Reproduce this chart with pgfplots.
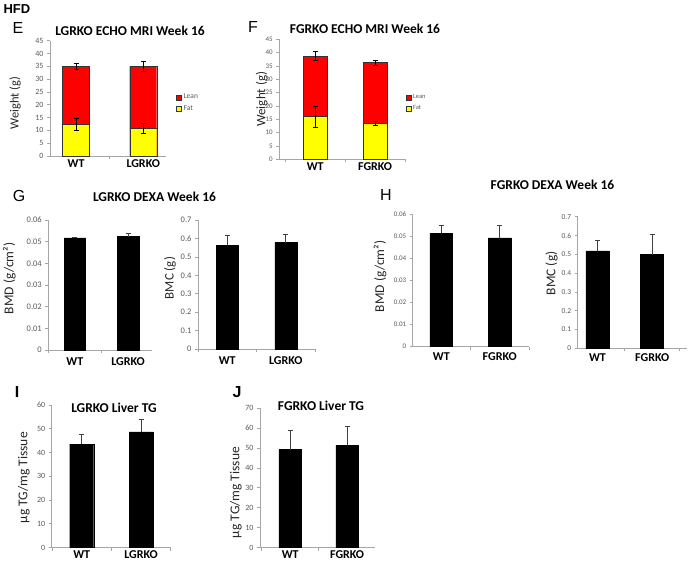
\documentclass[border=0pt]{standalone}
\usepackage{pgfplots}
\pgfplotsset{compat=1.18}
\usepackage{fontspec}
\setmainfont{Carlito}
\newfontfamily\arial{Liberation Sans}
\definecolor{tickgray}{HTML}{595959}
\definecolor{axgray}{HTML}{A6A6A6}
\definecolor{barred}{HTML}{FF0000}
\definecolor{baryel}{HTML}{FFFF00}
\definecolor{errgray}{HTML}{404040}

\pgfplotsset{
  panel/.style={
    scale only axis, anchor=south west, clip=false,
    axis x line*=bottom, axis y line*=left,
    axis line style={draw=axgray, line width=0.7pt},
    tick align=outside, major tick length=3pt,
    tick style={draw=axgray, line width=0.7pt},
    ymin=0, enlargelimits=false,
    scaled y ticks=false,
    /pgf/number format/assume math mode=true,
    yticklabel style={/pgf/number format/fixed, /pgf/number format/precision=2,
      font=\fontsize{8}{9}\selectfont, text=tickgray},
    xtick={-0.5,0.5,1.5}, xticklabels={{},{},{}},
    extra x ticks={0,1},
    extra x tick style={major tick length=0pt,
      xticklabel style={font=\bfseries\fontsize{12}{13}\selectfont, text=black}},
    ylabel style={font=\fontsize{12.5}{13}\selectfont, text=black!85, anchor=center},
    legend image code/.code={\draw[#1,/tikz/.cd,yshift=-2.5pt] (0pt,0pt) rectangle (5pt,5pt);},
    legend cell align=left,
  },
  errboth/.style={error bars/.cd, y dir=both, y explicit,
    error bar style={black, line width=0.5pt},
    error mark options={rotate=90, mark size=2.5pt, black, line width=0.5pt}},
  errplus/.style={error bars/.cd, y dir=plus, y explicit,
    error bar style={errgray, line width=0.6pt},
    error mark options={rotate=90, mark size=2.5pt, errgray, line width=0.6pt}},
  blackbar/.style={ybar, bar shift=0pt, fill=black, draw=black, bar width=#1},
}

\begin{document}
\begin{tikzpicture}
\path[use as bounding box] (0pt,0pt) rectangle (688pt,565pt);

% ---------- labels / titles ----------
\node[anchor=west, font=\arial\bfseries\fontsize{13}{14}\selectfont] at (0pt,556pt) {HFD};
\node[font=\arial\fontsize{16}{17}\selectfont] at (18pt,537pt) {E};
\node[font=\arial\fontsize{16}{17}\selectfont] at (253pt,538pt) {F};
\node[font=\arial\fontsize{16}{17}\selectfont] at (19pt,369pt) {G};
\node[font=\arial\fontsize{16}{17}\selectfont] at (386pt,370pt) {H};
\node[font=\arial\bfseries\fontsize{16}{17}\selectfont] at (17pt,173pt) {I};
\node[font=\arial\bfseries\fontsize{16}{17}\selectfont] at (237pt,173pt) {J};

\node[font=\bfseries\fontsize{13.5}{14}\selectfont] at (130pt,534pt) {LGRKO ECHO MRI Week 16};
\node[font=\bfseries\fontsize{13.5}{14}\selectfont] at (365pt,536pt) {FGRKO ECHO MRI Week 16};
\node[font=\bfseries\fontsize{13.5}{14}\selectfont] at (154.5pt,368pt) {LGRKO DEXA Week 16};
\node[font=\bfseries\fontsize{13.5}{14}\selectfont] at (552.5pt,380pt) {FGRKO DEXA Week 16};
\node[font=\bfseries\fontsize{13.5}{14}\selectfont] at (114pt,157pt) {LGRKO Liver TG};
\node[font=\bfseries\fontsize{13.5}{14}\selectfont] at (321pt,159pt) {FGRKO Liver TG};

% ---------- E ----------
\begin{axis}[panel, at={(50pt,409pt)}, width=116pt, height=115.3pt,
  xmin=-0.39, xmax=1.34, ymax=45, ytick={0,5,10,15,20,25,30,35,40,45},
  extra x tick labels={WT,LGRKO},
  ylabel={Weight (g)}, ylabel style={at={(axis description cs:-0.30,0.46)}},
  legend style={draw=none, fill=none, at={(1.06,0.46)}, anchor=west,
    font=\fontsize{7.5}{8}\selectfont, text=tickgray, row sep=1pt}]
\addplot[ybar, bar shift=0pt, bar width=27pt, fill=barred, draw=gray!40!black, errboth]
  coordinates {(0,35.0) +- (0,1.2) (1,35.0) +- (0,2.0)};
\addlegendentry{Lean}
\addplot[ybar, bar shift=0pt, bar width=27pt, fill=baryel, draw=gray!40!black, errboth]
  coordinates {(0,12.4) +- (0,2.5) (1,10.8) +- (0,1.9)};
\addlegendentry{Fat}
\end{axis}

% ---------- F ----------
\begin{axis}[panel, at={(279.3pt,405.7pt)}, width=125.7pt, height=120pt,
  xmin=-0.6, xmax=1.5, ymax=45, ytick={0,5,10,15,20,25,30,35,40,45},
  extra x tick labels={WT,FGRKO},
  ylabel={Weight (g)}, ylabel style={at={(axis description cs:-0.14,0.5)}, font=\fontsize{13}{14}\selectfont},
  yticklabel style={font=\fontsize{7}{8}\selectfont},
  legend style={draw=none, fill=none, at={(0.98,0.47)}, anchor=west,
    font=\fontsize{6.5}{7}\selectfont, text=tickgray, row sep=1pt}]
\addplot[ybar, bar shift=0pt, bar width=24pt, fill=barred, draw=gray!40!black, errboth]
  coordinates {(0,38.7) +- (0,1.7) (1,36.3) +- (0,1.0)};
\addlegendentry{Lean}
\addplot[ybar, bar shift=0pt, bar width=24pt, fill=baryel, draw=gray!40!black, errboth]
  coordinates {(0,16.0) +- (0,3.8) (1,13.5) +- (0,0.9)};
\addlegendentry{Fat}
\end{axis}

% ---------- G left (BMD) ----------
\begin{axis}[panel, at={(48.3pt,215pt)}, width=103.7pt, height=130pt,
  xmin=-0.5, xmax=1.45, ymax=0.06, ytick={0,0.01,0.02,0.03,0.04,0.05,0.06},
  extra x tick labels={WT,LGRKO},
  extra x tick style={xticklabel style={yshift=-4pt}},
  yticklabel style={font=\fontsize{8.5}{9}\selectfont},
  ylabel={BMD (g/cm²)}, ylabel style={at={(axis description cs:-0.376,0.55)}, font=\fontsize{13.5}{14}\selectfont}]
\addplot[blackbar=21.5pt, errplus]
  coordinates {(0,0.0517) +- (0,0.0004) (1,0.0523) +- (0,0.0016)};
\end{axis}

% ---------- G right (BMC) ----------
\begin{axis}[panel, at={(198pt,216pt)}, width=117pt, height=129pt,
  xmin=-0.5, xmax=1.5, ymax=0.7, ytick={0,0.1,0.2,0.3,0.4,0.5,0.6,0.7},
  extra x tick labels={WT,LGRKO},
  extra x tick style={xticklabel style={yshift=-4pt}},
  yticklabel style={font=\fontsize{8.5}{9}\selectfont},
  ylabel={BMC (g)}, ylabel style={at={(axis description cs:-0.24,0.55)}, font=\fontsize{13}{14}\selectfont}]
\addplot[blackbar=22pt, errplus]
  coordinates {(0,0.563) +- (0,0.052) (1,0.577) +- (0,0.043)};
\end{axis}

% ---------- H left (BMD) ----------
\begin{axis}[panel, at={(412.7pt,218.3pt)}, width=116.2pt, height=132.4pt,
  xmin=-0.49, xmax=1.5, ymax=0.06, ytick={0,0.01,0.02,0.03,0.04,0.05,0.06},
  extra x tick labels={WT,FGRKO},
  extra x tick style={xticklabel style={yshift=-2pt}},
  yticklabel style={font=\fontsize{7}{8}\selectfont},
  ylabel={BMD (g/cm²)}, ylabel style={at={(axis description cs:-0.281,0.53)}, font=\fontsize{13.5}{14}\selectfont}]
\addplot[blackbar=22.7pt, errplus]
  coordinates {(0,0.0513) +- (0,0.0037) (1,0.0493) +- (0,0.0057)};
\end{axis}

% ---------- H right (BMC) ----------
\begin{axis}[panel, at={(577.7pt,216.7pt)}, width=109pt, height=131.6pt,
  xmin=-0.36, xmax=1.63, ymax=0.7, ytick={0,0.1,0.2,0.3,0.4,0.5,0.6,0.7},
  extra x tick labels={WT,FGRKO},
  extra x tick style={xticklabel style={yshift=-2pt}},
  yticklabel style={font=\fontsize{7.5}{8}\selectfont},
  ylabel={BMC (g)}, ylabel style={at={(axis description cs:-0.239,0.57)}, font=\fontsize{13.5}{14}\selectfont}]
\addplot[blackbar=23pt, errplus]
  coordinates {(0,0.518) +- (0,0.058) (1,0.498) +- (0,0.11)};
\end{axis}

% ---------- I ----------
\begin{axis}[panel, at={(51.7pt,17.5pt)}, width=119pt, height=142.5pt,
  xmin=-0.506, xmax=1.5, ymax=60, ytick={0,10,20,30,40,50,60},
  extra x tick labels={WT,LGRKO},
  extra x tick style={xticklabel style={yshift=0pt}},
  ylabel={µg TG/mg Tissue}, ylabel style={at={(axis description cs:-0.233,0.49)}, font=\fontsize{13.5}{14}\selectfont}]
\addplot[blackbar=24pt, errplus]
  coordinates {(0,43.5) +- (0,4.2) (1,48.7) +- (0,5.1)};
\end{axis}

% ---------- J ----------
\begin{axis}[panel, at={(260pt,17.5pt)}, width=115pt, height=139.2pt,
  xmin=-0.53, xmax=1.49, ymax=70, ytick={0,10,20,30,40,50,60,70},
  extra x tick labels={WT,FGRKO},
  extra x tick style={xticklabel style={yshift=0pt}},
  ylabel={µg TG/mg Tissue}, ylabel style={at={(axis description cs:-0.209,0.395)}, font=\fontsize{13.5}{14}\selectfont}]
\addplot[blackbar=22.7pt, errplus]
  coordinates {(0,49.2) +- (0,9.7) (1,51.5) +- (0,9.3)};
\end{axis}
\end{tikzpicture}
\end{document}
